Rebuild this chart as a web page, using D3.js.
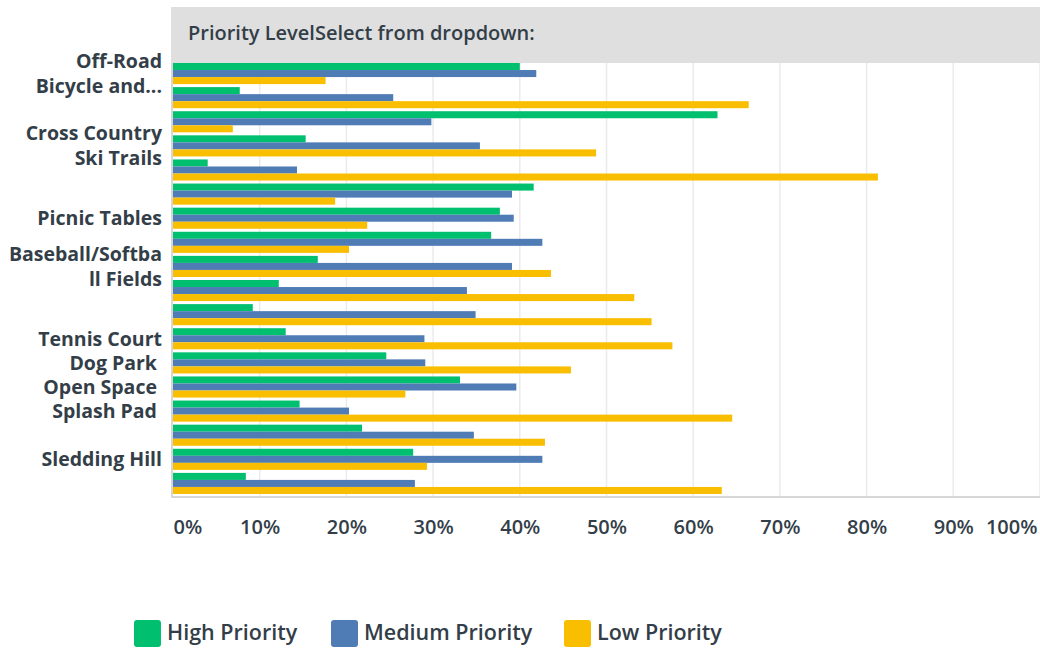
<!DOCTYPE html>
<html>
<head>
<meta charset="utf-8">
<script src="https://cdn.jsdelivr.net/npm/d3@7/dist/d3.min.js"></script>
<style>
  html, body { margin: 0; padding: 0; background: #ffffff; }
  svg { display: block; }
  text { font-family: "Open Sans", "Noto Sans", sans-serif; fill: #333e48; }
</style>
</head>
<body>
<svg id="chart" width="1040" height="648"></svg>
<script>
// ---------------- data ----------------
const title = "Priority LevelSelect from dropdown:";
const series = ["High Priority", "Medium Priority", "Low Priority"];
const colors = ["#00bf6f", "#507cb6", "#f9be00"];
// 18 answer rows; only some of them show a label in the picture
const categoryLabels = [
  ["Off-Road", "Bicycle and..."],
  [],
  [],
  ["Cross Country", "Ski Trails"],
  [],
  [],
  ["Picnic Tables"],
  [],
  ["Baseball/Softba", "ll Fields"],
  [],
  [],
  ["Tennis Court"],
  ["Dog Park\u00a0"],
  ["Open Space\u00a0"],
  ["Splash Pad\u00a0"],
  [],
  ["Sledding Hill"],
  []
];
const highValues   = [40.0, 7.7, 62.8, 15.3, 4.0, 41.6, 37.7, 36.7, 16.7, 12.2, 9.2, 13.0, 24.6, 33.1, 14.6, 21.8, 27.7, 8.4];
const mediumValues = [41.9, 25.4, 29.8, 35.4, 14.3, 39.1, 39.3, 42.6, 39.1, 33.9, 34.9, 29.0, 29.1, 39.6, 20.3, 34.7, 42.6, 27.9];
const lowValues    = [17.6, 66.4, 6.9, 48.8, 81.3, 18.7, 22.4, 20.3, 43.6, 53.2, 55.2, 57.6, 45.9, 26.8, 64.5, 42.9, 29.3, 63.3];
const tickValues = [0, 10, 20, 30, 40, 50, 60, 70, 80, 90, 100];
const tickLabels = ["0%", "10%", "20%", "30%", "40%", "50%", "60%", "70%", "80%", "90%", "100%"];

// ---------------- layout ----------------
const svg = d3.select("#chart");
const mLeft = 173, mRight = 1040, mTop = 63, mBottom = 497;
const rows = d3.range(categoryLabels.length);
const valuesBySeries = [highValues, mediumValues, lowValues];

const x = d3.scaleLinear().domain([0, 100]).range([mLeft, mRight]);
const y = d3.scaleBand().domain(rows).range([mTop, mBottom]).padding(0);
const sub = d3.scaleBand().domain(d3.range(series.length)).range([0, y.bandwidth() * 0.875]);

// header band
svg.append("rect").attr("x", 171).attr("y", 7).attr("width", 1040 - 171).attr("height", mTop - 7)
  .attr("fill", "#dfdfdf");
svg.append("text").attr("x", 188).attr("y", 40)
  .attr("font-size", 20).attr("font-weight", 600).text(title);

// grid lines
svg.append("g").selectAll("line").data(tickValues.slice(1)).join("line")
  .attr("x1", d => x(d)).attr("x2", d => x(d))
  .attr("y1", mTop).attr("y2", mBottom)
  .attr("stroke", "#ebebeb").attr("stroke-width", 1.5);

// bars
const g = svg.append("g");
valuesBySeries.forEach((vals, si) => {
  g.append("g").selectAll("rect").data(vals).join("rect")
    .attr("x", x(0))
    .attr("y", (d, i) => y(i) + sub(si))
    .attr("width", d => x(d) - x(0))
    .attr("height", sub.bandwidth())
    .attr("fill", colors[si]);
});

// axis lines
svg.append("line").attr("x1", 172).attr("x2", 172).attr("y1", mTop).attr("y2", mBottom)
  .attr("stroke", "#d6d6d6").attr("stroke-width", 2);
svg.append("line").attr("x1", 171).attr("x2", 1040).attr("y1", mBottom).attr("y2", mBottom)
  .attr("stroke", "#d6d6d6").attr("stroke-width", 2);

// x axis labels
const xAxis = d3.axisBottom(x).tickValues(tickValues)
  .tickFormat((d, i) => tickLabels[i]).tickSize(0).tickPadding(0);
const ax = svg.append("g").attr("transform", `translate(0, ${mBottom})`).call(xAxis);
ax.select(".domain").remove();
ax.selectAll("text")
  .attr("y", 37).attr("dy", null)
  .attr("font-family", "Open Sans, Noto Sans, sans-serif")
  .attr("font-size", 20).attr("font-weight", 600).attr("fill", "#333e48")
  .attr("text-anchor", (d, i) => i === 0 ? "start" : (i === tickValues.length - 1 ? "end" : "middle"))
  .attr("dx", (d, i) => i === tickValues.length - 1 ? -3 : 0);

// category labels
const lab = svg.append("g");
categoryLabels.forEach((lines, i) => {
  if (!lines.length) return;
  const cy = y(i) + y.bandwidth() / 2 - 1.5;
  const lineH = 25;
  const t = lab.append("text").attr("text-anchor", "end")
    .attr("font-size", 19.5).attr("font-weight", 700)
    .attr("xml:space", "preserve");
  lines.forEach((ln, k) => {
    t.append("tspan").attr("x", 162)
      .attr("y", cy - (lines.length - 1) * lineH / 2 + k * lineH)
      .attr("dy", "0.36em").text(ln);
  });
});

// legend
const legendX = [134, 331, 564];
const lg = svg.append("g");
series.forEach((s, i) => {
  lg.append("rect").attr("x", legendX[i]).attr("y", 620).attr("width", 27).attr("height", 27)
    .attr("rx", 3).attr("fill", colors[i]);
  lg.append("text").attr("x", legendX[i] + 33).attr("y", 632).attr("dy", "0.35em")
    .attr("font-size", 21.5).attr("font-weight", 600).text(s);
});
</script>
</body>
</html>
